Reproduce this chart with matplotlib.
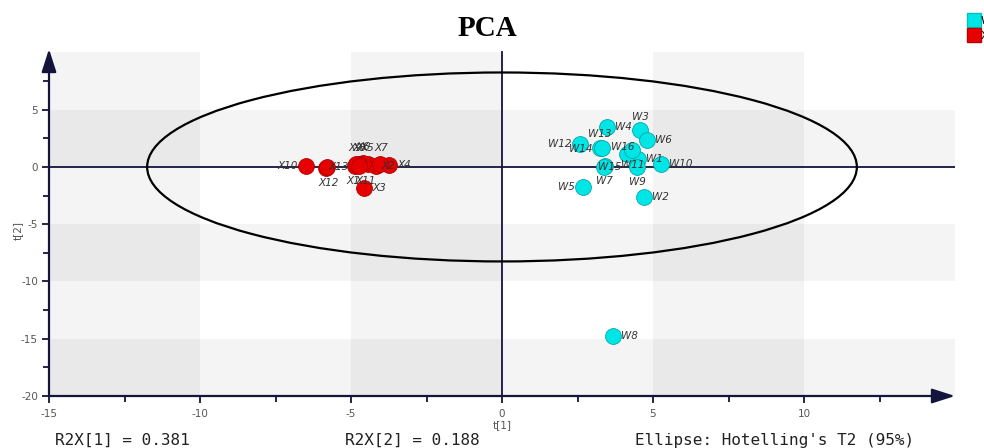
import matplotlib
matplotlib.use("Agg")
import matplotlib.pyplot as plt
import numpy as np
from matplotlib.patches import Ellipse
from matplotlib.lines import Line2D

plt.rcParams["axes.unicode_minus"] = False

# ---- data ----
w_labels = ["W1", "W2", "W3", "W4", "W5", "W6", "W7", "W8",
            "W9", "W10", "W11", "W12", "W13", "W14", "W15", "W16"]
w_t1 = [4.51, 4.71, 4.57, 3.49, 2.67, 4.79, 3.40, 3.68,
        4.48, 5.26, 4.13, 2.58, 3.25, 3.30, 3.38, 4.29]
w_t2 = [0.67, -2.59, 3.23, 3.52, -1.72, 2.36, 0.05, -14.76,
        0.03, 0.24, 1.11, 1.98, 1.69, 1.63, 0.03, 1.48]

x_labels = ["X1", "X2", "X3", "X4", "X5", "X6", "X7", "X8",
            "X9", "X10", "X11", "X12", "X13"]
x_t1 = [-4.88, -4.17, -4.56, -3.74, -4.45, -4.60, -4.05, -4.72,
        -4.85, -6.50, -4.72, -5.83, -5.80]
x_t2 = [0.05, 0.10, -1.81, 0.15, 0.28, 0.32, 0.30, 0.30,
        0.25, 0.11, 0.08, -0.06, 0.02]

ellipse_a = 11.75
ellipse_b = 8.25
r2x = [0.381, 0.188]

# label offsets (pixels; dx, dy with dy up) - styling only
w_off = {"W1": (8, 0, "left"), "W2": (8, 0, "left"), "W3": (0, 13, "center"),
         "W4": (8, 0, "left"), "W5": (-8, 0, "right"), "W6": (8, 0, "left"),
         "W7": (0, -15, "center"), "W8": (8, 0, "left"), "W9": (0, -15, "center"),
         "W10": (8, 0, "left"), "W11": (-6, -11, "left"), "W12": (-8, 0, "right"),
         "W13": (0, 14, "center"), "W14": (-9, -1, "right"), "W15": (-6, 0, "left"),
         "W16": (-21, 3, "left")}
x_off = {"X1": (-8, -15, "left"), "X2": (5, 0, "left"), "X3": (8, 0, "left"),
         "X4": (8, 0, "left"), "X5": (0, 16, "center"), "X6": (0, 16, "center"),
         "X7": (2, 16, "center"), "X8": (0, 16, "center"), "X9": (0, 16, "center"),
         "X10": (-8, 0, "right"), "X11": (-4, -15, "left"), "X12": (3, -15, "center"),
         "X13": (2, 0, "left")}

navy = "#14143c"
cyan = "#00e6e6"
red = "#e60000"

fig = plt.figure(figsize=(9.84, 4.48), dpi=100)
ax = fig.add_axes([49 / 984, 52 / 448, 906 / 984, 347 / 448])
xmin, xmax, ymin, ymax = -15, 15, -20, 10.3
ax.set_xlim(xmin, xmax)
ax.set_ylim(ymin, ymax)

# background bands
for i, x0 in enumerate(range(-15, 15, 5)):
    if i % 2 == 0:
        ax.fill_between([x0, x0 + 5], -20, 10, color="black", alpha=0.045, lw=0, zorder=0)
for j, y0 in enumerate(range(-20, 10, 5)):
    if j % 2 == 0:
        ax.fill_between([-15, 15], y0, y0 + 5, color="black", alpha=0.045, lw=0, zorder=0)

# center lines
ax.plot([xmin, xmax], [0, 0], color=navy, lw=1.3, zorder=2)
ax.plot([0, 0], [ymin, 10], color=navy, lw=1.3, zorder=2)

# ellipse
ax.add_patch(Ellipse((0, 0), 2 * ellipse_a, 2 * ellipse_b, fill=False,
                     ec="black", lw=1.6, zorder=3))

# points
ax.scatter(w_t1, w_t2, s=130, c=cyan, edgecolors="#00a8a8", linewidths=0.6, zorder=5)
ax.scatter(x_t1, x_t2, s=130, c=red, edgecolors="#b00000", linewidths=0.6, zorder=5)

def put_labels(labels, xs, ys, offs):
    for lab, xv, yv in zip(labels, xs, ys):
        dx, dy, ha = offs[lab]
        ax.annotate(lab, (xv, yv), xytext=(dx * 0.72, dy * 0.72),
                    textcoords="offset points", ha=ha, va="center",
                    fontsize=7.5, style="italic", color="#333333", zorder=6)

put_labels(w_labels, w_t1, w_t2, w_off)
put_labels(x_labels, x_t1, x_t2, x_off)

# axes styling
for sp in ax.spines.values():
    sp.set_visible(False)
ax.annotate("", xy=(1.0, 0), xytext=(0, 0), xycoords="axes fraction",
            arrowprops=dict(arrowstyle="-|>,head_length=1.4,head_width=0.45",
                            color=navy, lw=1.6, shrinkA=0, shrinkB=0), zorder=4)
ax.annotate("", xy=(0, 1.0), xytext=(0, 0), xycoords="axes fraction",
            arrowprops=dict(arrowstyle="-|>,head_length=1.4,head_width=0.45",
                            color=navy, lw=1.6, shrinkA=0, shrinkB=0), zorder=4)

ax.set_xticks([-15, -10, -5, 0, 5, 10])
ax.set_xticks([-12.5, -7.5, -2.5, 2.5, 7.5, 12.5], minor=True)
ax.set_yticks([-20, -15, -10, -5, 0, 5])
ax.set_yticks([-17.5, -12.5, -7.5, -2.5, 2.5, 7.5], minor=True)
ax.tick_params(which="both", direction="out", color=navy, width=1.3,
               labelsize=7.5, labelcolor="#555555")
ax.tick_params(which="major", length=5)
ax.tick_params(which="minor", length=4)
ax.tick_params(axis="x", which="major", pad=4)
ax.tick_params(axis="y", which="major", pad=3)

ax.text(0, -22.5, "t[1]", ha="center", va="center", fontsize=7.5, color="#555555")
fig.text(18 / 984, 1 - 230 / 448, "t[2]", rotation=90, ha="center", va="center",
         fontsize=7.5, color="#555555")

fig.text(487 / 984, 1 - 29 / 448, "PCA", ha="center", va="center",
         fontsize=21, fontweight="bold", family="Liberation Serif")

mono = dict(fontsize=11.5, family="DejaVu Sans Mono", color="#222222", va="center")
fig.text(55 / 984, 1 - 440 / 448, f"R2X[1] = {r2x[0]:.3f}", **mono)
fig.text(345 / 984, 1 - 440 / 448, f"R2X[2] = {r2x[1]:.3f}", **mono)
fig.text(635 / 984, 1 - 440 / 448, "Ellipse: Hotelling's T2 (95%)", **mono)

handles = [Line2D([], [], marker="s", ls="", ms=10.5, mfc=cyan, mec="#00c0c0", label="W"),
           Line2D([], [], marker="s", ls="", ms=10.5, mfc=red, mec="#c00000", label="X")]
fig.legend(handles=handles, loc="upper left", bbox_to_anchor=(963 / 984, 1 - 10 / 448),
           frameon=False, fontsize=8, handletextpad=0.1, labelspacing=0.45,
           borderpad=0, handlelength=1.0)

fig.savefig("out.png", dpi=100)
